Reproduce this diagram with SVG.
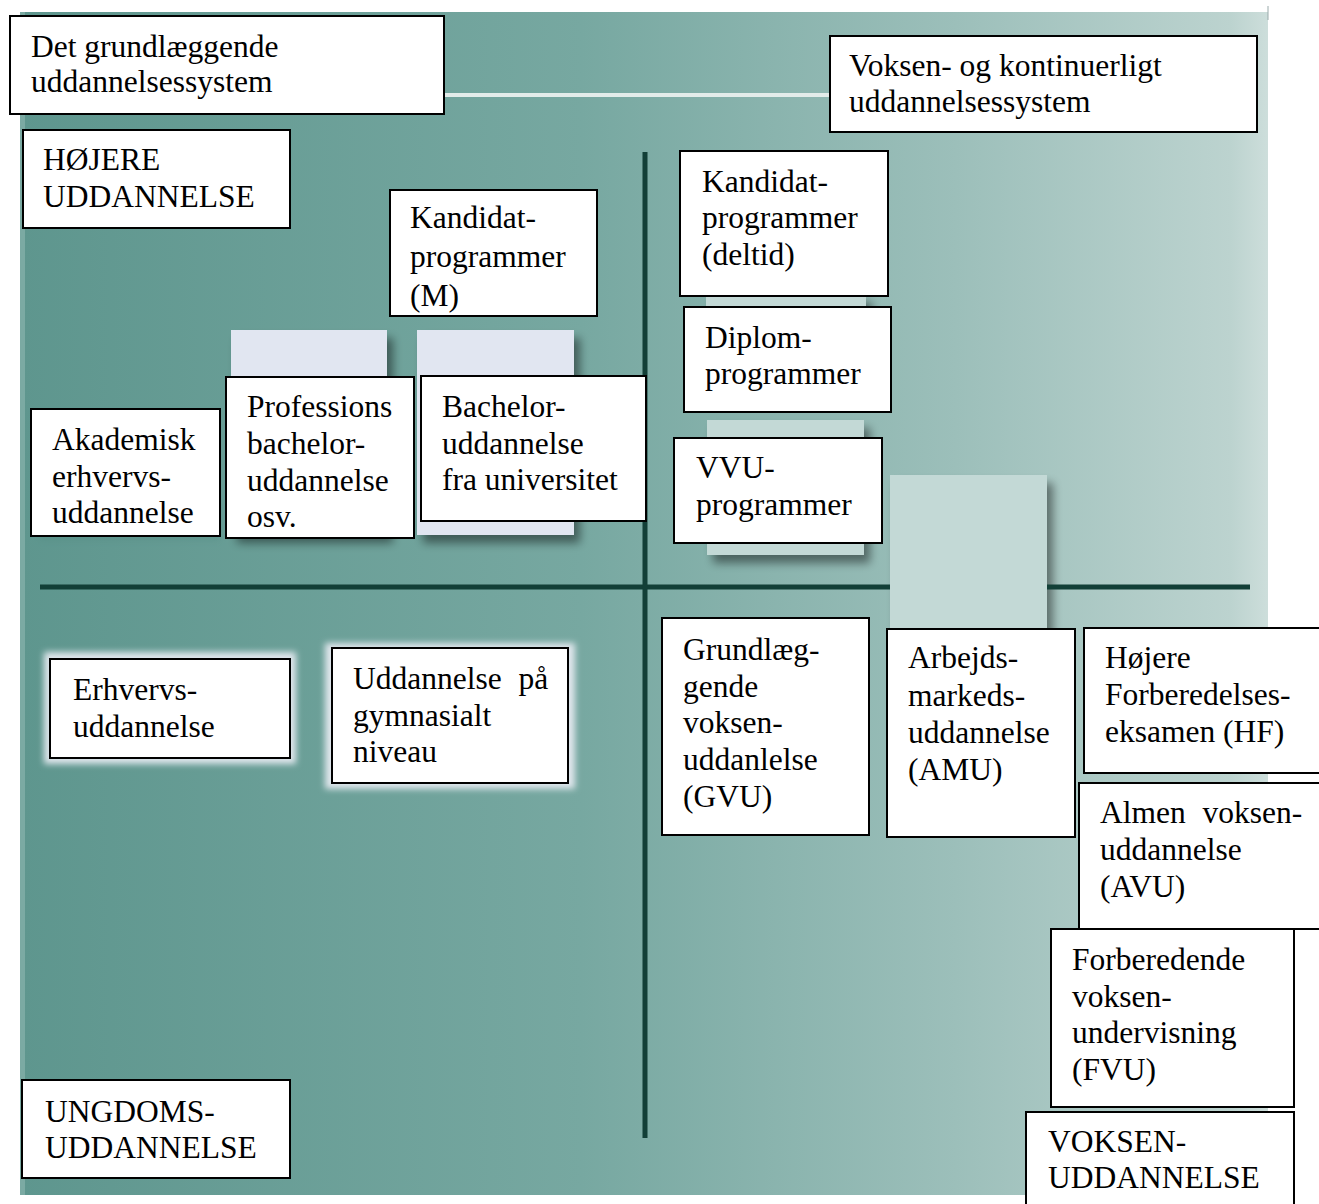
<svg xmlns="http://www.w3.org/2000/svg" width="1319" height="1204" viewBox="0 0 1319 1204">
<defs>
<linearGradient id="panel" x1="0" y1="0" x2="1" y2="0">
<stop offset="0" stop-color="#5e968e"/>
<stop offset="0.45" stop-color="#77a8a1"/>
<stop offset="0.75" stop-color="#9cbfba"/>
<stop offset="0.97" stop-color="#bcd3cf"/>
<stop offset="1" stop-color="#cddedb"/>
</linearGradient>
<filter id="sh" x="-20%" y="-20%" width="140%" height="140%">
<feGaussianBlur in="SourceAlpha" stdDeviation="5"/>
<feOffset dx="6" dy="8"/>
<feComponentTransfer><feFuncA type="linear" slope="0.45"/></feComponentTransfer>
<feMerge><feMergeNode/><feMergeNode in="SourceGraphic"/></feMerge>
</filter>
<filter id="blur" x="-20%" y="-20%" width="140%" height="140%">
<feGaussianBlur stdDeviation="3"/>
</filter>
<style>
.box{fill:#ffffff;stroke:#000000;stroke-width:2}
.t{font-family:"Liberation Serif","Times New Roman",serif;font-size:31.5px;fill:#000000}
.axis{stroke:#123f37;stroke-width:5;fill:none}
.deco{fill:#e1e6f1}
.deco2{fill:#c3d9d6}
</style>
</defs>

<!-- background panel -->
<rect x="0" y="0" width="1319" height="1204" fill="#ffffff"/>
<rect x="20" y="12" width="1248" height="1183" fill="url(#panel)"/>
<rect x="20" y="12" width="5" height="1183" fill="#8fb7b1" opacity="0.6"/>
<rect x="444" y="93" width="386" height="4" fill="#e3ecea"/>
<line x1="1268" y1="6" x2="1268" y2="20" stroke="#9aa" stroke-width="1"/>

<!-- decorative raised panels -->
<g id="decor">
<rect x="231" y="330" width="156" height="205" class="deco" filter="url(#sh)"/>
<rect x="417" y="330" width="157" height="205" class="deco" filter="url(#sh)"/>
<rect x="706" y="294" width="160" height="30" class="deco2" filter="url(#sh)"/>
<rect x="707" y="420" width="157" height="135" class="deco2" filter="url(#sh)"/>
<rect x="890" y="475" width="157" height="170" class="deco2" filter="url(#sh)"/>
<rect x="44" y="652" width="252" height="112" fill="#dfe6ec" filter="url(#blur)"/>
<rect x="325" y="643" width="250" height="146" fill="#dfe6ec" filter="url(#blur)"/>
<rect x="40" y="500" width="180" height="40" fill="#4f8880" opacity="0.35" filter="url(#blur)"/>
</g>

<!-- axes -->
<g id="connectors">
<line class="axis" x1="40" y1="587" x2="1250" y2="587"/>
<line class="axis" x1="645" y1="152" x2="645" y2="1138"/>
</g>
<rect x="890" y="475" width="157" height="170" class="deco2"/>

<g id="n-grundlaeggende">
<rect class="box" x="10" y="16" width="434" height="98"/>
<text class="t" x="31" y="57">Det grundlæggende</text>
<text class="t" x="31" y="92">uddannelsessystem</text>
</g>

<g id="n-voksen-kont">
<rect class="box" x="830" y="36" width="427" height="96"/>
<text class="t" x="849" y="76">Voksen- og kontinuerligt</text>
<text class="t" x="849" y="112">uddannelsessystem</text>
</g>

<g id="n-hojere">
<rect class="box" x="23" y="130" width="267" height="98"/>
<text class="t" x="43" y="170">HØJERE</text>
<text class="t" x="43" y="207">UDDANNELSE</text>
</g>

<g id="n-kandidat-m">
<rect class="box" x="390" y="190" width="207" height="126"/>
<text class="t" x="410" y="228">Kandidat-</text>
<text class="t" x="410" y="267">programmer</text>
<text class="t" x="410" y="306">(M)</text>
</g>

<g id="n-akademisk">
<rect class="box" x="31" y="409" width="189" height="127"/>
<text class="t" x="52" y="450">Akademisk</text>
<text class="t" x="52" y="487">erhvervs-</text>
<text class="t" x="52" y="523">uddannelse</text>
</g>

<g id="n-professions">
<rect class="box" x="226" y="377" width="188" height="161"/>
<text class="t" x="247" y="417">Professions</text>
<text class="t" x="247" y="454">bachelor-</text>
<text class="t" x="247" y="491">uddannelse</text>
<text class="t" x="247" y="527">osv.</text>
</g>

<g id="n-bachelor">
<rect class="box" x="421" y="376" width="225" height="145"/>
<text class="t" x="442" y="417">Bachelor-</text>
<text class="t" x="442" y="454">uddannelse</text>
<text class="t" x="442" y="490">fra universitet</text>
</g>

<g id="n-kandidat-deltid">
<rect class="box" x="680" y="151" width="208" height="145"/>
<text class="t" x="702" y="192">Kandidat-</text>
<text class="t" x="702" y="228">programmer</text>
<text class="t" x="702" y="265">(deltid)</text>
</g>

<g id="n-diplom">
<rect class="box" x="684" y="307" width="207" height="105"/>
<text class="t" x="705" y="348">Diplom-</text>
<text class="t" x="705" y="384">programmer</text>
</g>

<g id="n-vvu">
<rect class="box" x="674" y="438" width="208" height="105"/>
<text class="t" x="696" y="478">VVU-</text>
<text class="t" x="696" y="515">programmer</text>
</g>

<g id="n-erhvervs">
<rect class="box" x="50" y="659" width="240" height="99"/>
<text class="t" x="73" y="700">Erhvervs-</text>
<text class="t" x="73" y="737">uddannelse</text>
</g>

<g id="n-gymnasialt">
<rect class="box" x="332" y="648" width="236" height="135"/>
<text class="t" x="353" y="689" word-spacing="9">Uddannelse på</text>
<text class="t" x="353" y="726">gymnasialt</text>
<text class="t" x="353" y="762">niveau</text>
</g>

<g id="n-gvu">
<rect class="box" x="662" y="618" width="207" height="217"/>
<text class="t" x="683" y="660">Grundlæg-</text>
<text class="t" x="683" y="697">gende</text>
<text class="t" x="683" y="733">voksen-</text>
<text class="t" x="683" y="770">uddanlelse</text>
<text class="t" x="683" y="807">(GVU)</text>
</g>

<g id="n-amu">
<rect class="box" x="887" y="629" width="188" height="208"/>
<text class="t" x="908" y="668">Arbejds-</text>
<text class="t" x="908" y="706">markeds-</text>
<text class="t" x="908" y="743">uddannelse</text>
<text class="t" x="908" y="780">(AMU)</text>
</g>

<g id="n-hf">
<rect class="box" x="1084" y="628" width="245" height="145"/>
<text class="t" x="1105" y="668">Højere</text>
<text class="t" x="1105" y="705">Forberedelses-</text>
<text class="t" x="1105" y="742">eksamen (HF)</text>
</g>

<g id="n-avu">
<rect class="box" x="1079" y="783" width="250" height="146"/>
<text class="t" x="1100" y="823" word-spacing="9">Almen voksen-</text>
<text class="t" x="1100" y="860">uddannelse</text>
<text class="t" x="1100" y="897">(AVU)</text>
</g>

<g id="n-fvu">
<rect class="box" x="1051" y="929" width="243" height="178"/>
<text class="t" x="1072" y="970">Forberedende</text>
<text class="t" x="1072" y="1007">voksen-</text>
<text class="t" x="1072" y="1043">undervisning</text>
<text class="t" x="1072" y="1080">(FVU)</text>
</g>

<g id="n-voksenudd">
<rect class="box" x="1026" y="1112" width="268" height="110"/>
<text class="t" x="1048" y="1152">VOKSEN-</text>
<text class="t" x="1048" y="1188">UDDANNELSE</text>
</g>

<g id="n-ungdoms">
<rect class="box" x="22" y="1080" width="268" height="98"/>
<text class="t" x="45" y="1122">UNGDOMS-</text>
<text class="t" x="45" y="1158">UDDANNELSE</text>
</g>
</svg>
